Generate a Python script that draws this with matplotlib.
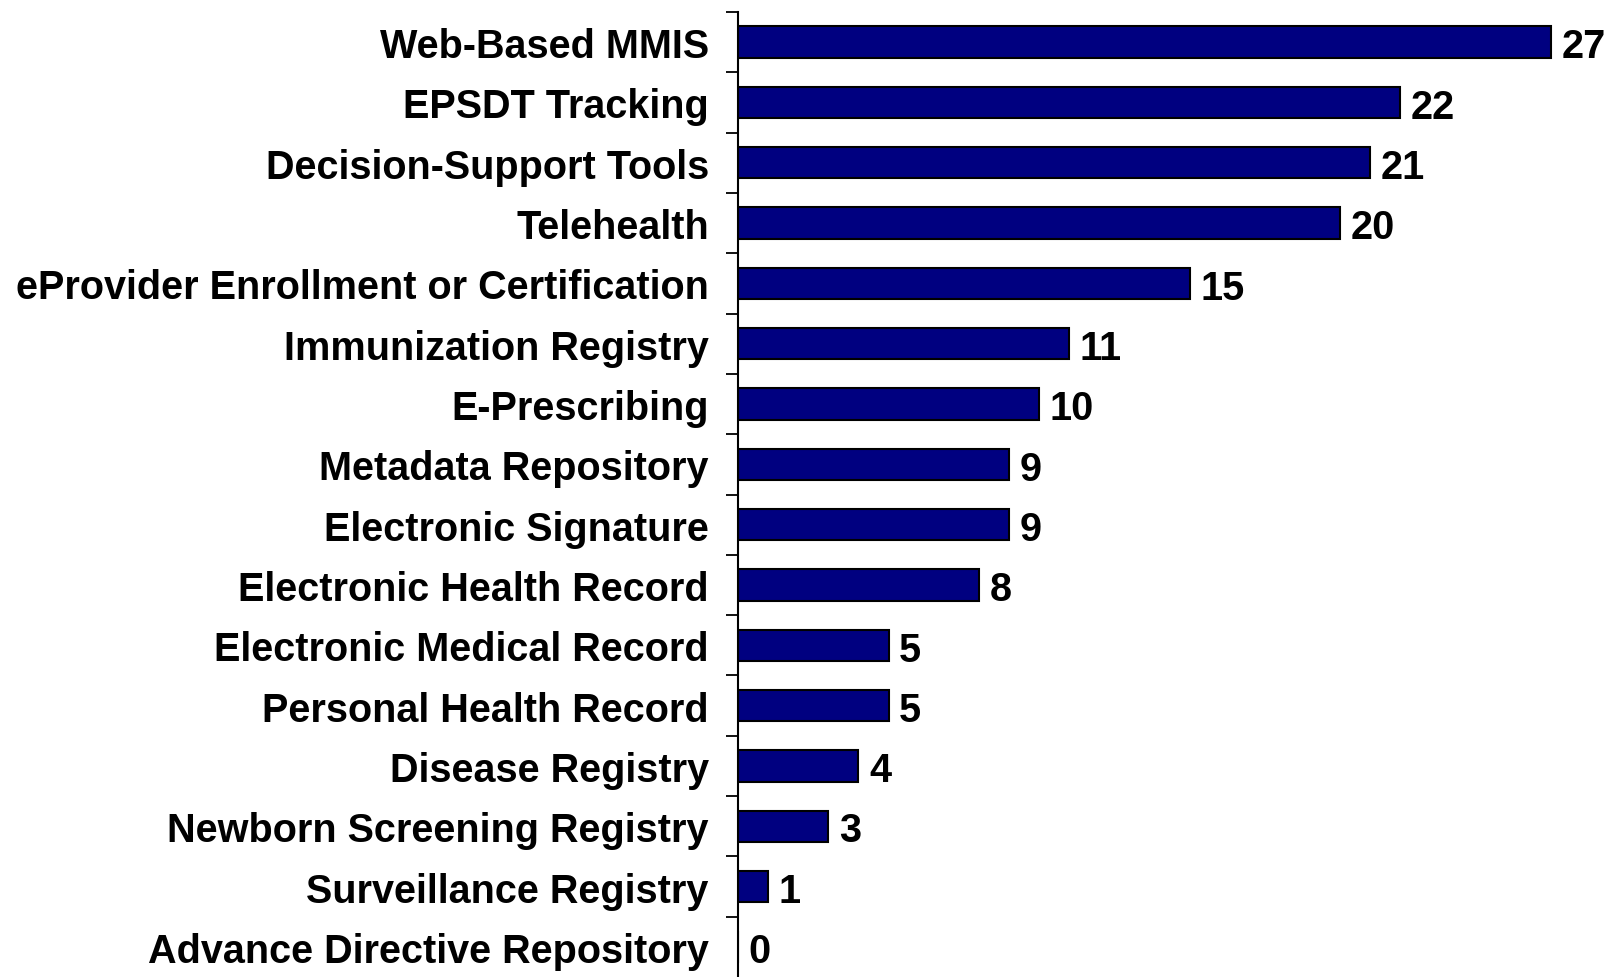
import matplotlib
matplotlib.use("Agg")
import matplotlib.pyplot as plt
import numpy as np

categories = [
    "Web-Based MMIS",
    "EPSDT Tracking",
    "Decision-Support Tools",
    "Telehealth",
    "eProvider Enrollment or Certification",
    "Immunization Registry",
    "E-Prescribing",
    "Metadata Repository",
    "Electronic Signature",
    "Electronic Health Record",
    "Electronic Medical Record",
    "Personal Health Record",
    "Disease Registry",
    "Newborn Screening Registry",
    "Surveillance Registry",
    "Advance Directive Repository",
]
counts = [27, 22, 21, 20, 15, 11, 10, 9, 9, 8, 5, 5, 4, 3, 1, 0]

plt.rcParams['font.family'] = ['Liberation Sans', 'DejaVu Sans']
plt.rcParams['font.weight'] = 'bold'

W, H = 1609, 978
fig = plt.figure(figsize=(W / 100, H / 100), dpi=100)
ax_left = 738 / W
ax_top = 13 / H
ax = fig.add_axes([ax_left, 0, 1 - ax_left, 1 - ax_top])

y = np.arange(len(categories))
ax.barh(y, counts, height=0.52, color="#000080", edgecolor="black", linewidth=1.5)

# value labels next to each bar
for yi, v in zip(y, counts):
    ax.text(v + 0.35, yi + 0.07, str(v), va="center", ha="left",
            fontsize=28.5, fontweight="bold")

ax.set_xlim(0, (W - 738) / 30.1)
ax.set_ylim(len(categories) - 0.5, -0.5)

ax.set_yticks(y)
ax.set_yticklabels(categories, fontsize=28.5, fontweight="bold")
ax.set_yticks(np.arange(len(categories)) - 0.5, minor=True)
ax.tick_params(axis="y", which="major", length=0, pad=21)
ax.tick_params(axis="y", which="minor", length=8.5, width=1.3, direction="out")
ax.set_xticks([])

for s in ["top", "right", "bottom"]:
    ax.spines[s].set_visible(False)
ax.spines["left"].set_linewidth(1.5)

fig.savefig("out.png", dpi=100)
